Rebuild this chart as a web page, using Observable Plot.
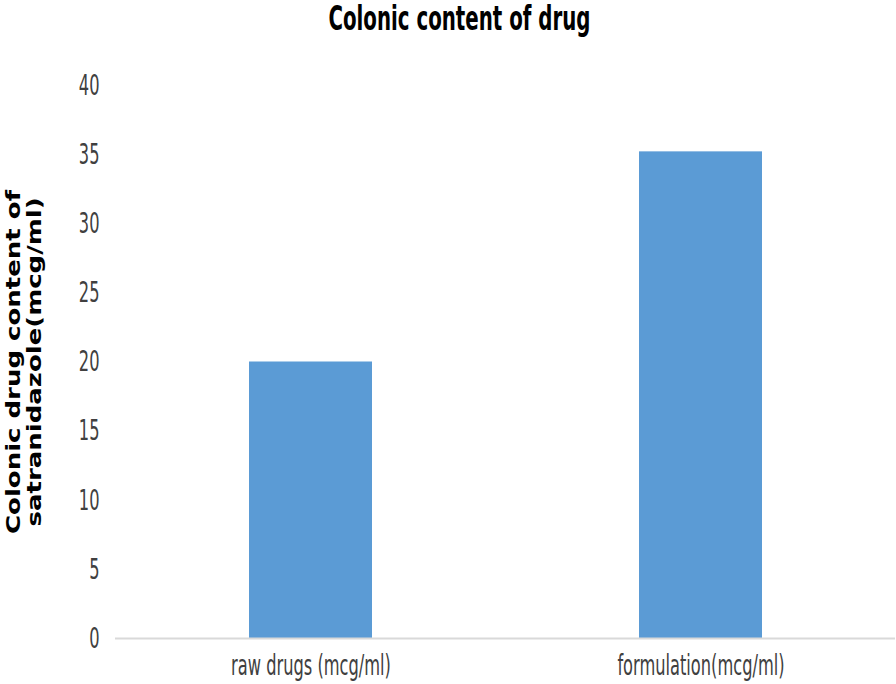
<!DOCTYPE html>
<html>
<head>
<meta charset="utf-8">
<script src="https://cdn.jsdelivr.net/npm/d3@7"></script>
<script src="https://cdn.jsdelivr.net/npm/@observablehq/plot@0.6"></script>
<style>
  html, body { margin: 0; padding: 0; background: #fff; }
  #wrap { width: 896px; height: 684px; overflow: hidden; }
  #title { height: 50px; text-align: center; padding-left: 22px; box-sizing: border-box; white-space: nowrap; }
  #title span { display: inline-block; margin-top: 2px; line-height: 1; font-family: "DejaVu Sans", sans-serif; font-weight: bold; font-size: 33px; color: #000; transform: scaleX(0.6); transform-origin: center; }
</style>
</head>
<body>
<div id="wrap">
  <div id="title"><span id="titleText"></span></div>
  <div id="chart"></div>
</div>
<script>
const titleText = "Colonic content of drug";
const categories = ["raw drugs (mcg/ml)", "formulation(mcg/ml)"];
const values = [20, 35.2];
const yTicks = [0, 5, 10, 15, 20, 25, 30, 35, 40];
const yLabel = "Colonic drug content of\nsatranidazole(mcg/ml)";

document.getElementById("titleText").textContent = titleText;

const data = categories.map((c, i) => ({category: c, value: values[i]}));

const chart = Plot.plot({
  width: 896,
  height: 634,
  marginTop: 35,
  marginBottom: 46,
  marginLeft: 115,
  marginRight: 1,
  style: {fontFamily: "'DejaVu Sans', sans-serif", fontSize: "29px", color: "#404040", background: "#fff"},
  x: {domain: categories, paddingInner: 0.685, paddingOuter: 0.3425, tickSize: 0, tickPadding: 16, label: null},
  y: {domain: [0, 40], ticks: yTicks, tickSize: 0, tickPadding: 16, label: null, tickFormat: d => String(d)},
  marks: [
    Plot.barY(data, {x: "category", y: "value", fill: "#5b9bd5"}),
    Plot.ruleY([0], {stroke: "#d9d9d9", strokeWidth: 2}),
    Plot.text([yLabel], {text: d => d, frameAnchor: "left", dx: -92, rotate: -90, lineAnchor: "middle", textAnchor: "middle", fontSize: 26, fontWeight: "bold", fontFamily: "'DejaVu Sans', Verdana, sans-serif", fill: "#000", lineHeight: 1.05})
  ]
});

// Narrow the glyphs horizontally to mimic the condensed look of the reference
chart.querySelectorAll("text").forEach(t => {
  const tr = t.getAttribute("transform") || "";
  if (t.textContent.includes("satranidazole")) {
    t.setAttribute("transform", `${tr} scale(1,0.77)`);
  } else {
    const x = +t.getAttribute("x") || 0, y = +t.getAttribute("y") || 0;
    t.setAttribute("transform", `${tr} translate(${x},${y}) scale(0.56,1) translate(${-x},${-y})`);
  }
});

document.getElementById("chart").appendChild(chart);
</script>
</body>
</html>
